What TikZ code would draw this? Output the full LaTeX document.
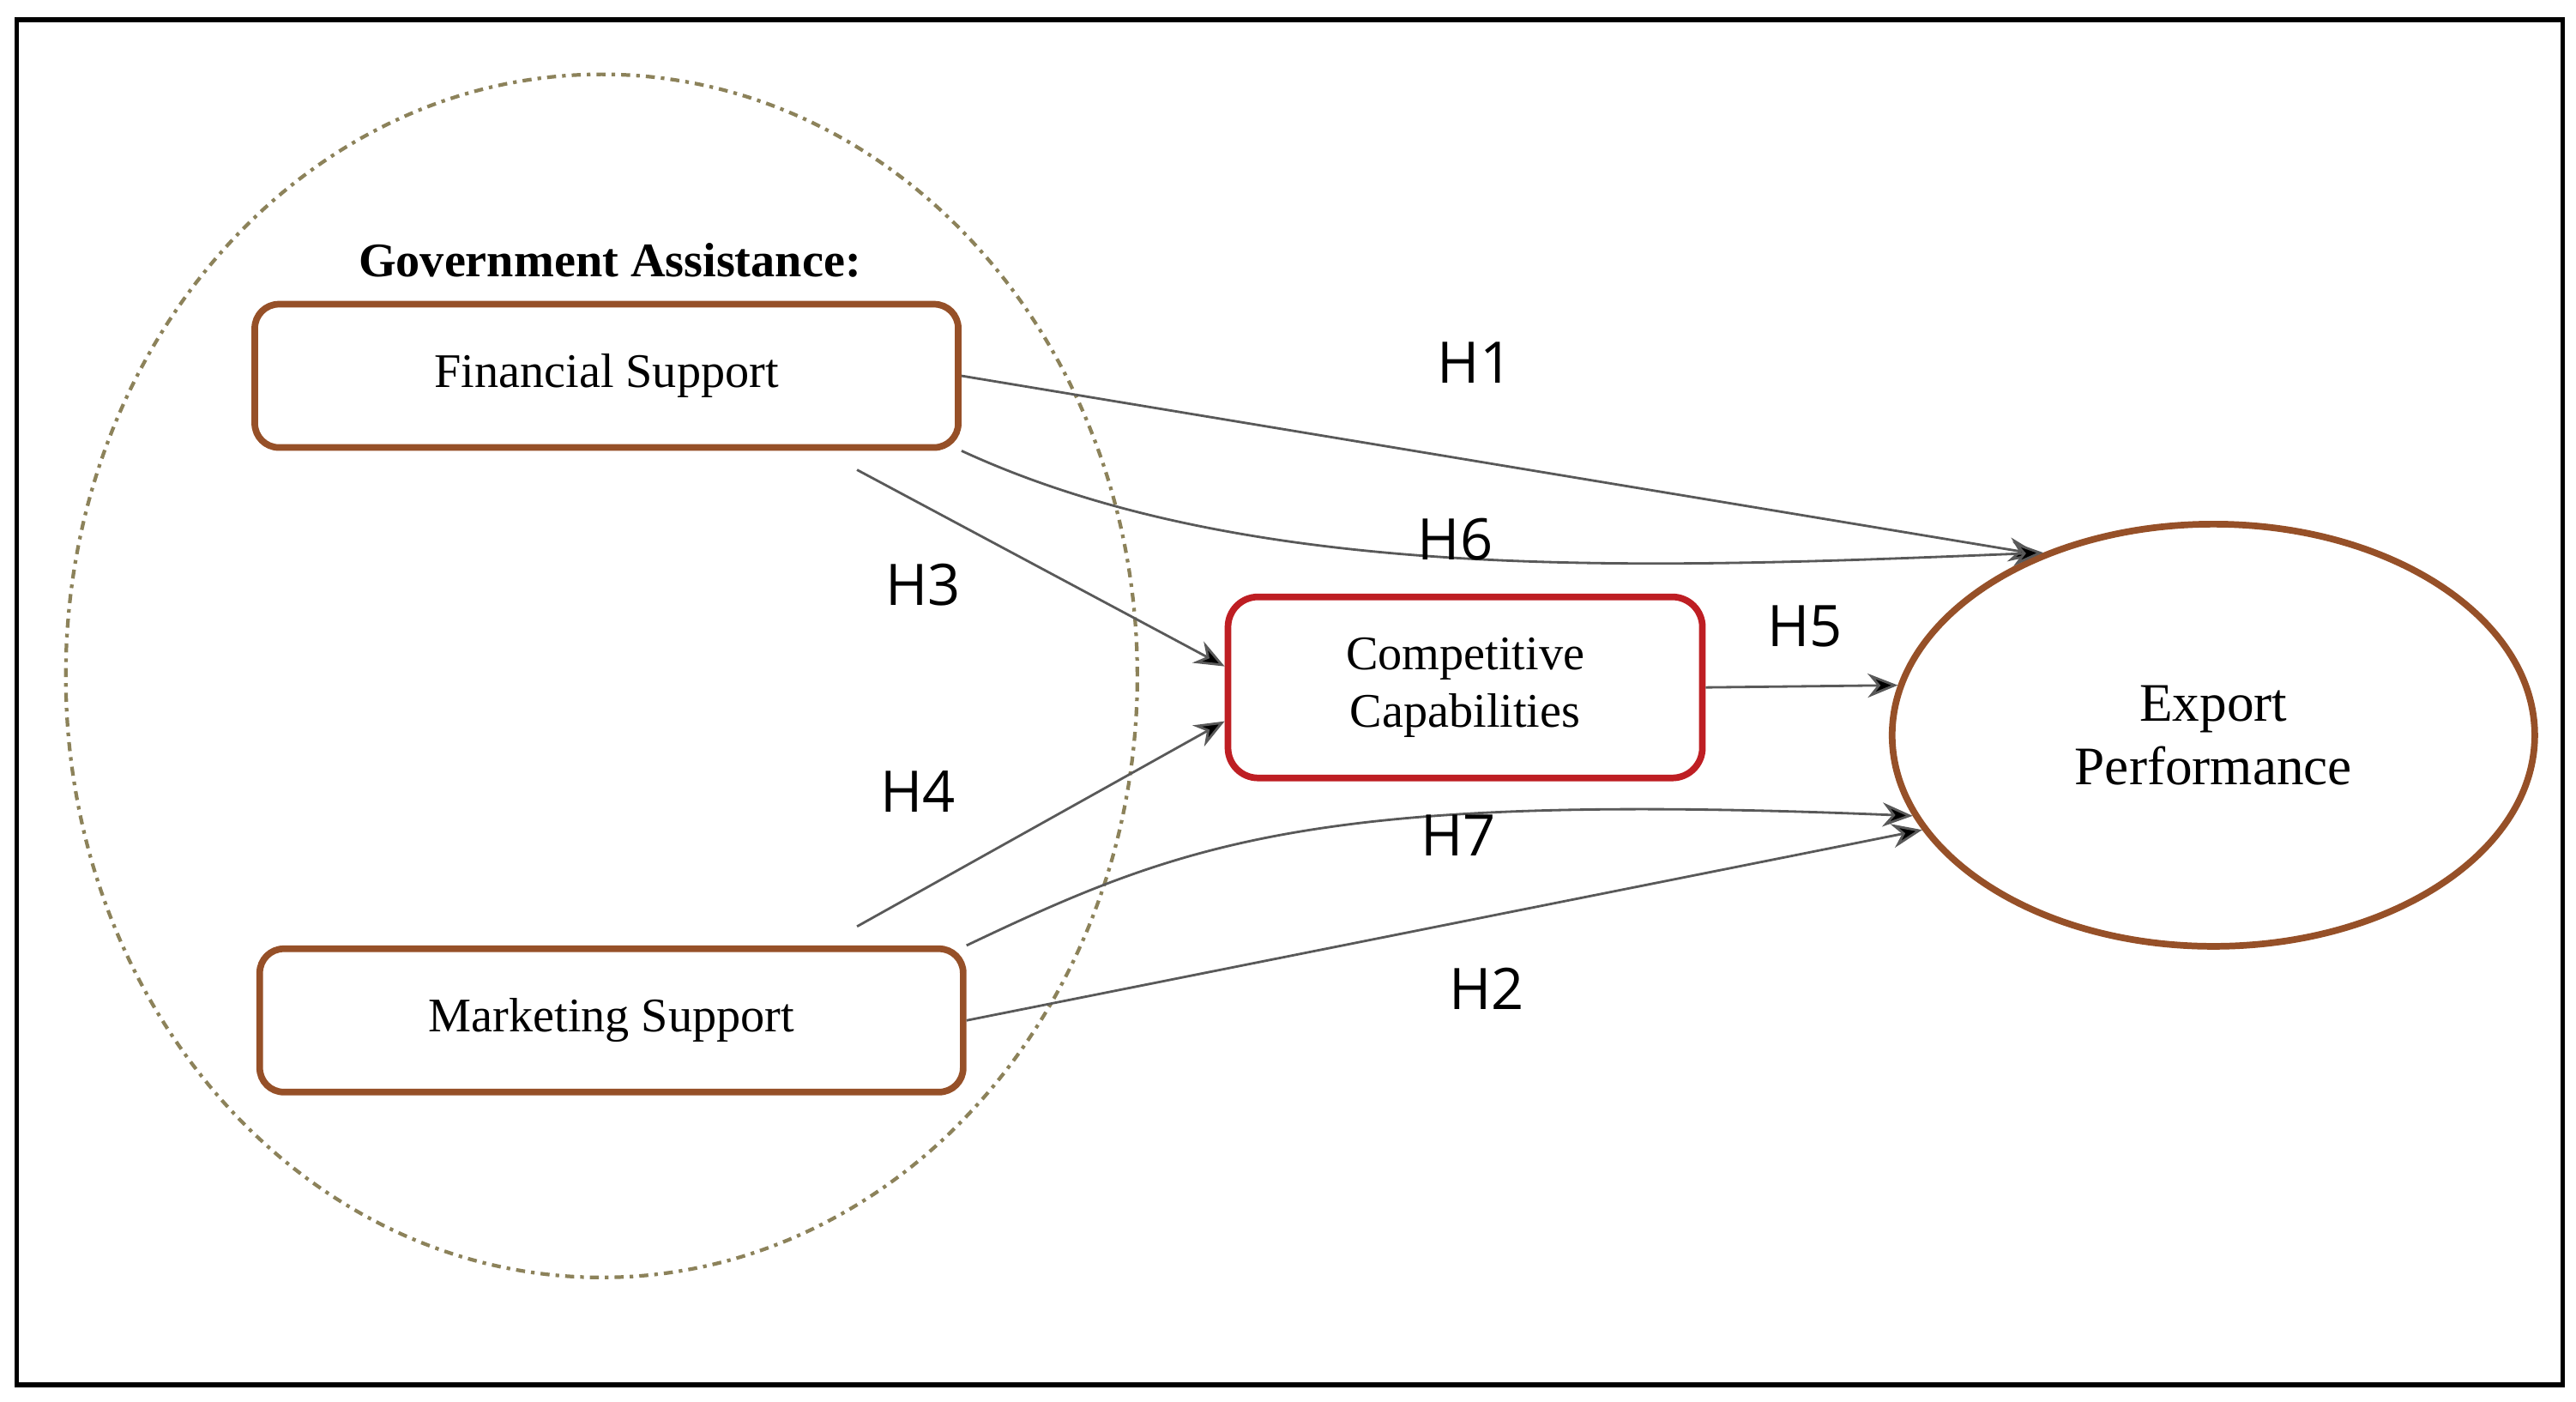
\documentclass[tikz,border=0pt]{standalone}
\usepackage{fontspec}
\setmainfont{Liberation Serif}
\newfontfamily\hfont{Open Sans}
\usetikzlibrary{positioning,arrows.meta,shapes.geometric}
\definecolor{boxbrown}{RGB}{150,80,40}
\definecolor{boxred}{RGB}{190,30,35}
\definecolor{dashgray}{RGB}{140,130,90}
\tikzset{
  support/.style={draw=boxbrown,line width=2.2pt,rounded corners=8pt,minimum width=8.2cm,minimum height=1.67cm,font=\fontsize{16}{18}\selectfont},
  link/.style={draw=black!65,line width=0.8pt,-{Stealth[length=10pt,width=8pt,fill=black]}},
  hyp/.style={font=\hfont\fontsize{19}{22}\selectfont}
}
\begin{document}
\begin{tikzpicture}[x=0.01921cm,y=-0.01921cm]
  \useasboundingbox (0,0) rectangle (1563,850);
  \draw[line width=1.5pt] (10,12) rectangle (1555,840);
  \node[ellipse,draw=dashgray,line width=1.2pt,dash dot,minimum width=12.49cm,minimum height=14.02cm] (ga) at (365,410) {};
  \node[font=\bfseries\fontsize{16}{18}\selectfont] (galabel) at (370,158) {Government Assistance:};
  \node[support] (fs) at (368,228) {Financial Support};
  \node[support] (ms) at (371,619) {Marketing Support};
  \node[draw=boxred,line width=2.2pt,rounded corners=10pt,minimum width=5.53cm,minimum height=2.11cm,align=center,font=\fontsize{16}{19}\selectfont] (cc) at (889,417) {Competitive\\Capabilities};
  \node[ellipse,draw=boxbrown,line width=2.2pt,minimum width=7.49cm,minimum height=4.92cm,align=center,font=\fontsize{18}{21}\selectfont] (ep) at (1343,446) {Export\\Performance};
  \coordinate (h3s) at (520,285);
  \coordinate (h4s) at (520,562);
  % hypothesised paths
  \draw[link] (fs.east) -- (ep.134);
  \draw[link] (fs.south east) .. controls (760,355) and (1000,345) .. (ep.133);
  \draw[link] (h3s) -- (cc.175);
  \draw[link] (h4s) -- (cc.188);
  \draw[link] (cc.east) -- (ep.171);
  \draw[link] (ms.north east) .. controls (720,510) and (800,480) .. (ep.195);
  \draw[link] (ms.east) -- (ep.198);
  \node[hyp] (h1) at (895,220) {H1};
  \node[hyp] (h6) at (883,327) {H6};
  \node[hyp] (h3) at (560,355) {H3};
  \node[hyp] (h4) at (557,480) {H4};
  \node[hyp] (h5) at (1095,380) {H5};
  \node[hyp] (h7) at (885,507) {H7};
  \node[hyp] (h2) at (902,600) {H2};
\end{tikzpicture}
\end{document}
